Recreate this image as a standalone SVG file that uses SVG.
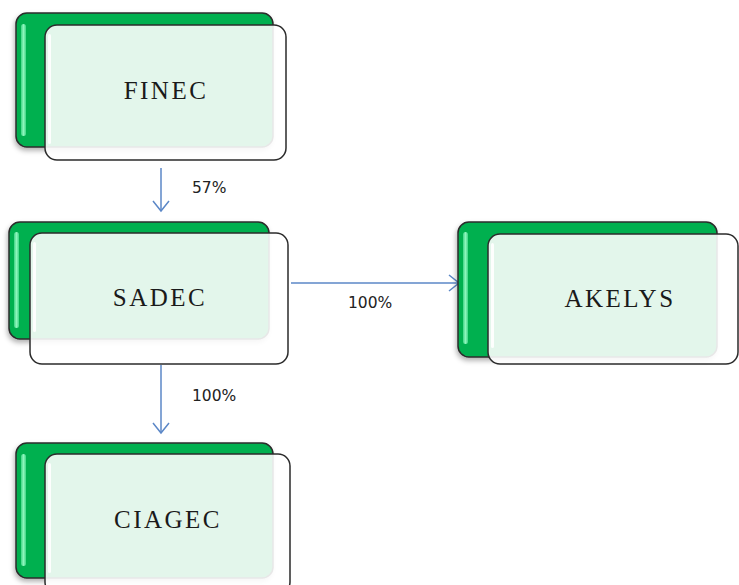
<svg xmlns="http://www.w3.org/2000/svg" width="739" height="585" viewBox="0 0 739 585">
  <defs>
    <style>
      .back { fill: #00B050; stroke: #2b2b2b; stroke-width: 1.5; filter: url(#shadow); }
      .front { fill: #ffffff; fill-opacity: 0.89; stroke: #2b2b2b; stroke-width: 1.5; }
      .hl { fill: url(#hlgrad); }
      .fhl { fill: #ffffff; opacity: 0.9; }
      .name { font-family: "Liberation Serif", "Times New Roman", serif; font-size: 25px; letter-spacing: 2.5px; fill: #1a1a1a; text-anchor: middle; }
      .lbl { font-family: "DejaVu Sans", Verdana, sans-serif; font-size: 15.5px; fill: #222222; }
      .conn { stroke: #5B87C7; stroke-width: 1.5; fill: none; marker-end: url(#arrow); }
    </style>
    <linearGradient id="hlgrad" x1="0" y1="0" x2="1" y2="0">
      <stop offset="0" stop-color="#3fd585"/>
      <stop offset="0.5" stop-color="#8ef5bd"/>
      <stop offset="1" stop-color="#3fd585"/>
    </linearGradient>
    <filter id="shadow" x="-10%" y="-10%" width="125%" height="125%">
      <feDropShadow dx="-1" dy="3" stdDeviation="2.5" flood-color="#000000" flood-opacity="0.3"/>
    </filter>
    <marker id="arrow" markerUnits="userSpaceOnUse" viewBox="-12 -10 14 20" refX="0" refY="0" markerWidth="14" markerHeight="20" orient="auto">
      <path d="M-10,-8 L0,0 L-10,8" fill="none" stroke="#5B87C7" stroke-width="1.5"/>
    </marker>
  </defs>
  <rect width="739" height="585" fill="#ffffff"/>

  <g id="connectors">
    <line class="conn" x1="161" y1="168" x2="161" y2="211"/>
    <line class="conn" x1="161" y1="365" x2="161" y2="433"/>
    <line class="conn" x1="291" y1="283" x2="459" y2="283"/>
    <text class="lbl" x="192" y="193">57%</text>
    <text class="lbl" x="192" y="401">100%</text>
    <text class="lbl" x="348" y="308">100%</text>
  </g>

  <g id="finec">
    <rect class="back" x="16" y="13" width="257" height="134" rx="11"/>
    <rect class="hl" x="21" y="24" width="5" height="112" rx="2.5"/>
    <rect class="front" x="45" y="25" width="241" height="135" rx="12"/>
    <rect class="fhl" x="48" y="34" width="3" height="110" rx="1.5"/>
    <text class="name" x="166" y="99">FINEC</text>
  </g>

  <g id="sadec">
    <rect class="back" x="9" y="222" width="260" height="117" rx="11"/>
    <rect class="hl" x="14" y="232" width="5" height="96" rx="2.5"/>
    <rect class="front" x="30" y="233" width="258" height="131" rx="12"/>
    <rect class="fhl" x="33" y="242" width="3" height="90" rx="1.5"/>
    <text class="name" x="160" y="306">SADEC</text>
  </g>

  <g id="akelys">
    <rect class="back" x="458" y="222" width="259" height="135" rx="11"/>
    <rect class="hl" x="463" y="232" width="5" height="112" rx="2.5"/>
    <rect class="front" x="488" y="234" width="250" height="130" rx="12"/>
    <rect class="fhl" x="491" y="243" width="3" height="105" rx="1.5"/>
    <text class="name" x="620" y="307">AKELYS</text>
  </g>

  <g id="ciagec">
    <rect class="back" x="16" y="443" width="257" height="135" rx="11"/>
    <rect class="hl" x="21" y="454" width="5" height="112" rx="2.5"/>
    <rect class="front" x="45" y="454" width="245" height="140" rx="12"/>
    <rect class="fhl" x="48" y="463" width="3" height="110" rx="1.5"/>
    <text class="name" x="168" y="528">CIAGEC</text>
  </g>
</svg>
